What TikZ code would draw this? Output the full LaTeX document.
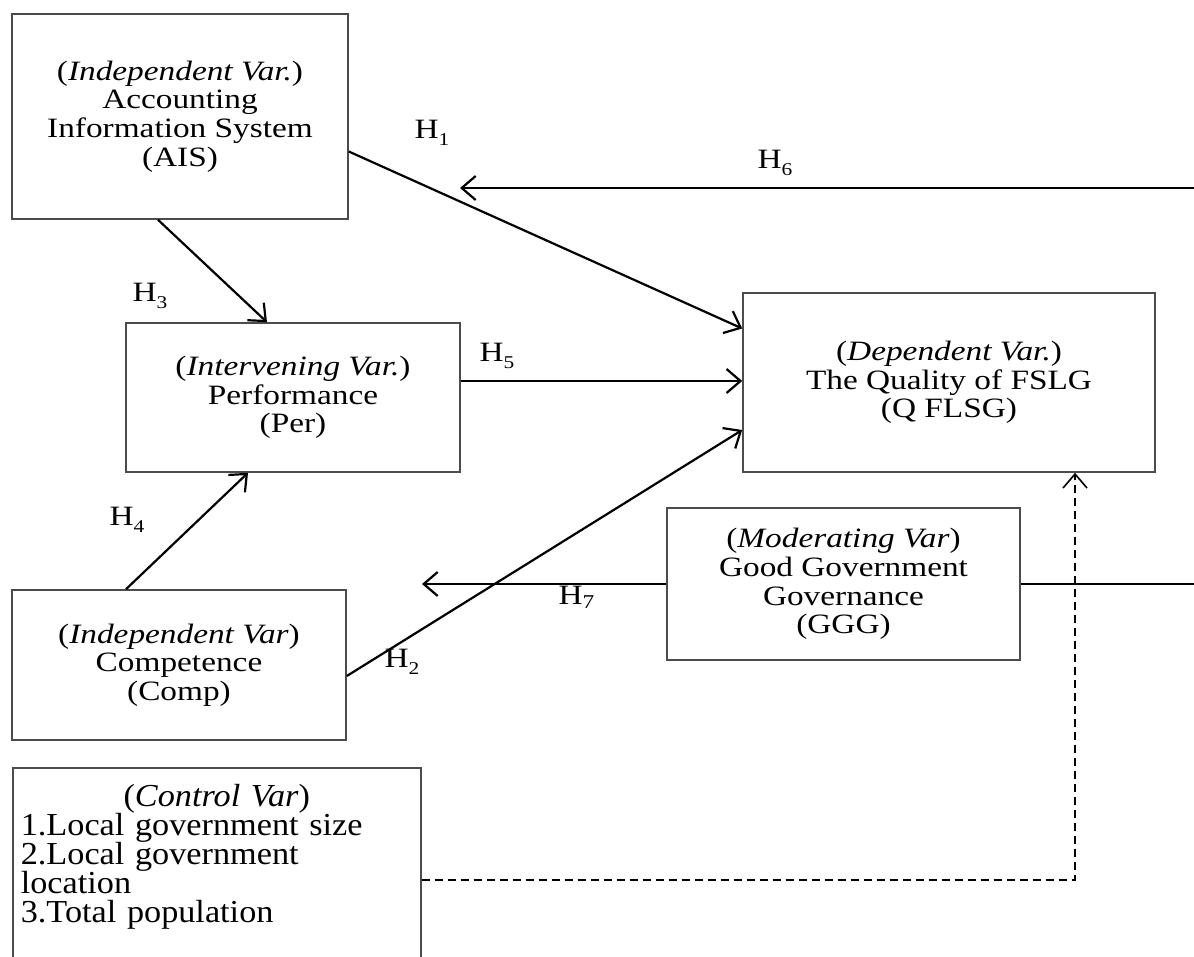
\documentclass[tikz,border=0pt]{standalone}
\usepackage{fontspec}
\setmainfont{Liberation Serif}[FakeStretch=1.19]
\newfontfamily\ctrlfont{Liberation Serif}[FakeStretch=1.07]
\usetikzlibrary{arrows.meta}

\newcommand{\boxfont}{\fontsize{14}{14.3}\selectfont}
\newcommand{\ctrlsize}{\ctrlfont\fontsize{16}{14.6}\selectfont}
\newcommand{\hsub}[1]{H\raisebox{-0.55ex}{\fontsize{9}{9}\selectfont #1}}

\begin{document}
\begin{tikzpicture}[x=0.5pt,y=-0.5pt,
    varbox/.style={draw=black!70, line width=0.8pt, align=center, inner sep=0pt, font=\boxfont},
    hyp/.style={-{Straight Barb[length=7pt,width=12pt]}, line width=1.1pt},
    hlabel/.style={font=\boxfont, inner sep=0pt}]

    \useasboundingbox (0,0) rectangle (1194,957);

    % Variables
    \node[varbox, minimum width=168pt, minimum height=102.5pt] (ais) at (180,116.5)
        {(\textit{Independent Var.})\\Accounting\\Information System\\(AIS)};
    \node[varbox, minimum width=167pt, minimum height=74.5pt] (per) at (293,397.5)
        {(\textit{Intervening Var.})\\Performance\\(Per)};
    \node[varbox, minimum width=206pt, minimum height=89.5pt] (dep) at (949,382.5)
        {(\textit{Dependent Var.})\\The Quality of FSLG\\(Q FLSG)};
    \node[varbox, minimum width=176.5pt, minimum height=76pt] (ggg) at (843.5,584)
        {(\textit{Moderating Var})\\Good Government\\Governance\\(GGG)};
    \node[varbox, minimum width=167pt, minimum height=75pt] (comp) at (179,665)
        {(\textit{Independent Var})\\Competence\\(Comp)};
    \node[varbox, font=\ctrlsize, anchor=north west, text width=196pt, align=left,
          inner xsep=4pt, inner ysep=8pt] (ctrl) at (12,767)
        {\makebox[196pt]{(\textit{Control Var})}\\1.Local government size\\2.Local government\\location\\3.Total population\rule[-40pt]{0pt}{1pt}};

    % Hypotheses
    \coordinate (h6tip) at (460,188);
    \coordinate (farright) at (1230,188);
    \coordinate (h7tip) at (422,584);

    \draw[hyp] ([yshift=-17.5pt]ais.east) -- ([yshift=27pt]dep.west);
    \draw[hyp] ([yshift=-5.5pt]comp.east) -- ([yshift=-23.75pt]dep.west);
    \draw[hyp] ([xshift=-11pt]ais.south) -- ([xshift=-13pt]per.north);
    \draw[hyp] ([xshift=-26.5pt]comp.north) -- ([xshift=-22.5pt]per.south);
    \draw[hyp] ([yshift=8.25pt]per.east) -- ([yshift=8.25pt]per.east -| dep.west);
    \draw[hyp] (ggg.east) -| (farright) -- (h6tip);
    \draw[hyp] (ggg.west) -- (h7tip);

    % Control
    \draw[hyp, line width=0.8pt, dashed, dash pattern=on 4pt off 2.5pt]
        ([yshift=-56.5pt]ctrl.north east) -| ([xshift=63pt]dep.south);

    % Labels
    \node[hlabel] (h1) at (432,133) {\hsub{1}};
    \node[hlabel] (h2) at (402,662) {\hsub{2}};
    \node[hlabel] (h3) at (150,296) {\hsub{3}};
    \node[hlabel] (h4) at (127,520) {\hsub{4}};
    \node[hlabel] (h5) at (497,356) {\hsub{5}};
    \node[hlabel] (h6) at (775,163) {\hsub{6}};
    \node[hlabel] (h7) at (577,597) {H\textsubscript{7}};
\end{tikzpicture}
\end{document}
